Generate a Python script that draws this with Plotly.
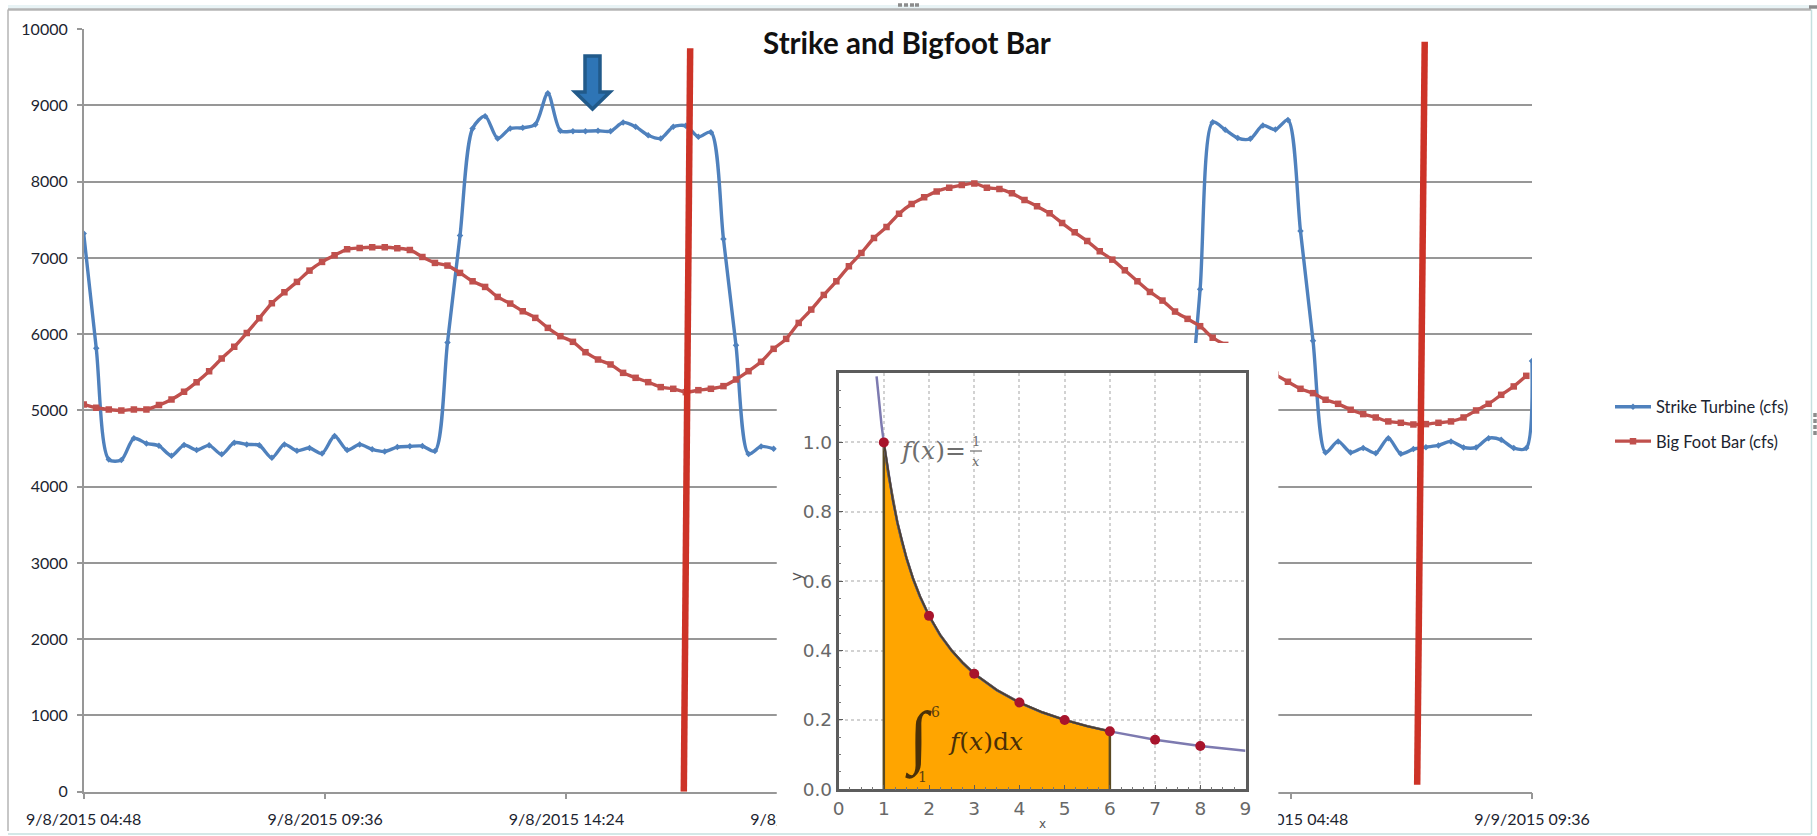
import pandas as pd
import plotly.graph_objects as go

W, H = 1817, 836

# ---- main chart data (cfs), one reading per logger interval ----
big_foot = [5079, 5035, 5013, 5000, 5013, 5013, 5070, 5144, 5245, 5371,
            5515, 5681, 5834, 6017, 6210, 6406, 6550, 6686, 6834, 6948,
            7035, 7113, 7131, 7140, 7140, 7127, 7105, 7013, 6935, 6900,
            6804, 6694, 6620, 6489, 6402, 6301, 6214, 6083, 5974, 5900,
            5764, 5668, 5603, 5493, 5428, 5371, 5306, 5284, 5240, 5266,
            5284, 5319, 5406, 5515, 5638, 5808, 5939, 6148, 6323, 6515,
            6694, 6891, 7066, 7262, 7406, 7581, 7707, 7795, 7873, 7921,
            7956, 7978, 7921, 7904, 7847, 7760, 7677, 7585, 7458, 7336,
            7222, 7087, 6978, 6838, 6694, 6554, 6441, 6297, 6201, 6105,
            5954, 5860, None, None, None, 5470, 5376, 5284, 5227, 5140,
            5087, 5009, 4952, 4908, 4856, 4838, 4816, 4821, 4838, 4856,
            4908, 5000, 5087, 5205, 5315, 5454]

# None: readings hidden behind the pasted picture
strike = [7320, 5817, 4358, 4350, 4634, 4568, 4537, 4406, 4546, 4481,
          4542, 4424, 4577, 4555, 4542, 4380, 4555, 4472, 4507, 4437,
          4664, 4481, 4555, 4490, 4463, 4520, 4529, 4533, 4468, 5890,
          7293, 8698, 8860, 8567, 8698, 8707, 8751, 9160, 8668, 8663,
          8663, 8668, 8663, 8777, 8720, 8610, 8567, 8720, 8733, 8589,
          8650, 7250, 5855, 4430, 4528, 4497,
          None, None, None, None, None, None, None, None, None, None,
          None, None, None, None, None, None, None, None, None, None,
          None, None, None, None, None, None, None, None, None, None,
          None, None,
          4600, 6590, 8781, 8681, 8572, 8563, 8738, 8685, 8810, 7354,
          5913, 4449, 4594, 4449, 4506, 4440, 4637, 4432, 4493, 4519,
          4541, 4594, 4515, 4515, 4637, 4615, 4506, 4506, 5650]

axis_start = "2015-09-08 04:48"
axis_end = "2015-09-09 09:36"
tick_times = ["2015-09-08 04:48", "2015-09-08 09:36", "2015-09-08 14:24",
              "2015-09-08 19:12", "2015-09-09 00:00", "2015-09-09 04:48",
              "2015-09-09 09:36"]
tick_labels = ["9/8/2015 04:48", "9/8/2015 09:36", "9/8/2015 14:24",
               "9/8/2015 19:12", "9/9/2015 00:00", "9/9/2015 04:48",
               "9/9/2015 09:36"]
y_ticks = [0, 1000, 2000, 3000, 4000, 5000, 6000, 7000, 8000, 9000, 10000]

# hand-drawn red markers, read in axis units
red_a_x = ["2015-09-08 16:51:36", "2015-09-08 16:44:00"]
red_a_y = [9750, 0]
red_b_x = ["2015-09-09 07:28:00", "2015-09-09 07:19:00"]
red_b_y = [9836, 92]

# ---- inset data ----
inset_x = [0.84, 0.87, 0.9, 0.95, 1, 1.1, 1.2, 1.3, 1.4, 1.5, 1.65, 1.8, 2, 2.25, 2.5,
           2.75, 3, 3.5, 4, 4.5, 5, 5.5, 6, 7, 8, 9]
inset_y = [1.19, 1.15, 1.11, 1.05, 1.0, 0.909, 0.833, 0.769, 0.714, 0.667, 0.606, 0.556,
           0.5, 0.444, 0.4, 0.364, 0.333, 0.286, 0.25, 0.222, 0.2, 0.182, 0.167,
           0.143, 0.125, 0.111]
area_x = [1, 1, 1.1, 1.2, 1.3, 1.4, 1.5, 1.65, 1.8, 2, 2.25, 2.5, 2.75, 3, 3.5, 4, 4.5,
          5, 5.5, 6, 6]
area_y = [0, 1.0, 0.909, 0.833, 0.769, 0.714, 0.667, 0.606, 0.556, 0.5, 0.444, 0.4,
          0.364, 0.333, 0.286, 0.25, 0.222, 0.2, 0.182, 0.167, 0]
dots_x = [1, 2, 3, 4, 5, 6, 7, 8]
dots_y = [1.0, 0.5, 0.333, 0.25, 0.2, 0.167, 0.143, 0.125]
inset_y_ticks = [0, 0.2, 0.4, 0.6, 0.8, 1.0]

# ---- layout in pixels ----
MAIN = dict(l=83.7, r=1532, t=29.2, b=791.7)
BOX = dict(l=776.5, r=1278.6, t=343, b=833)
INSET = dict(l=838.6, r=1245.5, t=373, b=789.3)


def dom_x(a):
    return [a["l"] / W, a["r"] / W]


def dom_y(a):
    return [1 - a["b"] / H, 1 - a["t"] / H]


RED = "#c0504d"
BLUE = "#4f81bd"
GRID = "#979797"
TEXT = "#1c2430"
FONT = "Lato"

start = pd.Timestamp(axis_start)
end = pd.Timestamp(axis_end)
step = (end - start) / 115.4
times = [start + i * step for i in range(len(big_foot))]
strike_times = times + [end]

fig = go.Figure()
fig.add_trace(go.Scatter(
    x=strike_times, y=strike, name="Strike Turbine (cfs)", mode="lines+markers",
    line=dict(color=BLUE, width=3.4, shape="spline", smoothing=0.8),
    marker=dict(symbol="diamond", size=5, color=BLUE), legendgroup="a",
    xaxis="x", yaxis="y"))
fig.add_trace(go.Scatter(
    x=times, y=big_foot, name="Big Foot Bar (cfs)", mode="lines+markers",
    line=dict(color=RED, width=3.4, shape="spline", smoothing=0.8),
    marker=dict(symbol="square", size=6.5, color=RED), legendgroup="b",
    xaxis="x", yaxis="y"))
for rx, ry in ((red_a_x, red_a_y), (red_b_x, red_b_y)):
    fig.add_trace(go.Scatter(x=rx, y=ry, mode="lines", showlegend=False,
                             line=dict(color="#cd3327", width=6.5),
                             xaxis="x", yaxis="y"))

# white backing of the pasted picture (second subplot sits over the first one)
notch_x = (790 - BOX["l"]) / (BOX["r"] - BOX["l"])
notch_y = 1 - (356 - BOX["t"]) / (BOX["b"] - BOX["t"])
fig.add_trace(go.Scatter(
    x=[0, 0, notch_x, notch_x, 1, 1, 0], y=[0, notch_y, notch_y, 1, 1, 0, 0],
    mode="lines", fill="toself", fillcolor="white", line=dict(width=0),
    showlegend=False, hoverinfo="skip", xaxis="x2", yaxis="y2"))

# inset picture
fig.add_trace(go.Scatter(x=area_x, y=area_y, mode="lines", fill="toself",
                         fillcolor="#ffa500", line=dict(color="#5a4a22", width=2.5),
                         showlegend=False, xaxis="x3", yaxis="y3"))
fig.add_trace(go.Scatter(x=inset_x, y=inset_y, mode="lines",
                         line=dict(color="#7d7ab0", width=2.5),
                         showlegend=False, xaxis="x3", yaxis="y3"))
fig.add_trace(go.Scatter(x=area_x[1:-1], y=area_y[1:-1], mode="lines",
                         line=dict(color="#4b4030", width=2),
                         showlegend=False, xaxis="x3", yaxis="y3"))
fig.add_trace(go.Scatter(x=dots_x, y=dots_y, mode="markers",
                         marker=dict(color="#a8142c", size=10),
                         showlegend=False, xaxis="x3", yaxis="y3"))

fig.update_layout(
    width=W, height=H, margin=dict(l=0, r=0, t=0, b=0), autosize=False,
    paper_bgcolor="white", plot_bgcolor="rgba(0,0,0,0)",
    font=dict(family=FONT, color=TEXT, size=16),
    title=dict(text="<b>Strike and Bigfoot Bar</b>", xref="paper", yref="paper",
               x=907 / W, y=1 - 44 / H, xanchor="center", yanchor="middle",
               font=dict(family=FONT, size=29.5, color="#111111")),
    legend=dict(x=1610 / W, y=1 - 424 / H, xanchor="left", yanchor="middle",
                bgcolor="rgba(0,0,0,0)", tracegroupgap=10, itemwidth=36,
                font=dict(family=FONT, size=16.5, color=TEXT)),
    xaxis=dict(domain=dom_x(MAIN), type="date", range=[axis_start, axis_end],
               tickmode="array", tickvals=tick_times, ticktext=tick_labels,
               ticks="outside", ticklen=6, tickcolor=GRID, tickwidth=1.5,
               showline=True, linecolor=GRID, linewidth=1.5, showgrid=False,
               zeroline=False, ticklabelstandoff=6, automargin=False,
               tickfont=dict(family=FONT, size=16, color=TEXT), anchor="y"),
    yaxis=dict(domain=dom_y(MAIN), range=[0, 10000], tickmode="array",
               tickvals=y_ticks, tickformat="d", ticks="outside", ticklen=5,
               tickcolor=GRID, tickwidth=1.5, showline=True, linecolor=GRID,
               linewidth=1.5, showgrid=True, gridcolor=GRID, gridwidth=1.5,
               zeroline=False, automargin=False, ticklabelstandoff=6,
               tickfont=dict(family=FONT, size=16, color=TEXT), anchor="x"),
    xaxis2=dict(domain=dom_x(BOX), range=[0, 1], visible=False, anchor="y2",
                fixedrange=True),
    yaxis2=dict(domain=dom_y(BOX), range=[0, 1], visible=False, anchor="x2",
                fixedrange=True),
    xaxis3=dict(domain=dom_x(INSET), range=[0, 9], dtick=1, tick0=0, anchor="y3",
                showgrid=True, gridcolor="#d2d2d2", griddash="dot", gridwidth=1.5,
                showline=True, mirror=True, linecolor="#5c5c5c", linewidth=2.5,
                ticks="inside", ticklen=5, tickcolor="#5c5c5c", zeroline=False,
                minor=dict(dtick=0.25, ticks="inside", ticklen=3, tickcolor="#777777"),
                automargin=False, ticklabelstandoff=1,
                tickfont=dict(family="DejaVu Sans", size=18.5, color="#686868")),
    yaxis3=dict(domain=dom_y(INSET), range=[0, 1.2], tickmode="array",
                tickvals=inset_y_ticks, anchor="x3",
                showgrid=True, gridcolor="#d2d2d2", griddash="dot", gridwidth=1.5,
                showline=True, mirror=True, linecolor="#5c5c5c", linewidth=2.5,
                ticks="inside", ticklen=5, tickcolor="#5c5c5c", zeroline=False,
                minor=dict(dtick=0.05, ticks="inside", ticklen=3, tickcolor="#777777"),
                tickformat=".1f", automargin=False,
                tickfont=dict(family="DejaVu Sans", size=18.5, color="#686868")),
)


def px_note(text, x, y, size, color, family="DejaVu Serif", angle=0):
    fig.add_annotation(text=text, xref="paper", yref="paper", x=x / W, y=1 - y / H,
                       showarrow=False, xanchor="center", yanchor="middle",
                       textangle=angle, font=dict(family=family, size=size, color=color))


px_note("<i>f</i>(<i>x</i>)=", 933, 450, 25, "#6e6e6e")
px_note("1", 976, 441, 13, "#6e6e6e")
px_note("<i>x</i>", 976, 461, 13, "#6e6e6e")
px_note("<i>∫</i>", 918, 738, 70, "#4a3008", family="Liberation Serif")
px_note("6", 935, 712, 14, "#5a4010")
px_note("1", 922, 777, 14, "#5a4010")
px_note("<i>f</i>(<i>x</i>)d<i>x</i>", 985, 741, 25, "#4a3008")
px_note("y", 797, 577, 15, "#555555", family="DejaVu Sans", angle=-90)
px_note("x", 1042, 824, 12, "#555555", family="DejaVu Sans")


def paper_path(points):
    return "M " + " L ".join(f"{x / W:.5f},{1 - y / H:.5f}" for x, y in points) + " Z"


def paper_line(x0, y0, x1, y1, color, width, layer="below"):
    return dict(type="line", xref="paper", yref="paper", x0=x0 / W, x1=x1 / W,
                y0=1 - y0 / H, y1=1 - y1 / H, line=dict(color=color, width=width),
                layer=layer)


def paper_dot(x, y, w=4, h=3.5):
    return dict(type="rect", xref="paper", yref="paper", x0=(x - w / 2) / W, x1=(x + w / 2) / W,
                y0=1 - (y + h / 2) / H, y1=1 - (y - h / 2) / H,
                fillcolor="#8c8c8c", line=dict(width=0), layer="below")


shapes = [
    # window frame
    dict(type="rect", xref="paper", yref="paper", x0=8 / W, x1=1811 / W, y0=1 - 9 / H, y1=1 - 5 / H,
         fillcolor="#e8f3f5", line=dict(width=0), layer="below"),
    paper_line(8, 9.5, 1811, 9.5, "#b4b4b4", 2.5),
    paper_line(8, 9.5, 8, 831, "#b4b4b4", 1.5),
    paper_line(1811.5, 9.5, 1811.5, 834, "#c5e0df", 1.5),
    paper_line(8, 834, 1811, 834, "#c5e0df", 1.5),
    # block arrow
    dict(type="path", xref="paper", yref="paper",
         path=paper_path([(585, 56), (600, 56), (600, 92), (610, 92), (592.5, 109),
                          (575, 92), (585, 92)]),
         fillcolor="#2e75b6", line=dict(color="#215a8a", width=3.5), layer="above"),
    # fraction bar
    paper_line(970, 451, 982, 451, "#6e6e6e", 1.2, layer="above"),
]
# window resize handles
shapes += [paper_dot(x, 5) for x in (900, 906, 912, 917)]
shapes += [paper_dot(1815, y, 3.5, 4) for y in (415, 421, 427, 433)]
shapes += [paper_dot(x, 7) for x in (1811, 1815)]
fig.update_layout(shapes=shapes)

fig.write_html("out.html", config={"displayModeBar": False},
               post_script="document.body.style.margin='0';")
